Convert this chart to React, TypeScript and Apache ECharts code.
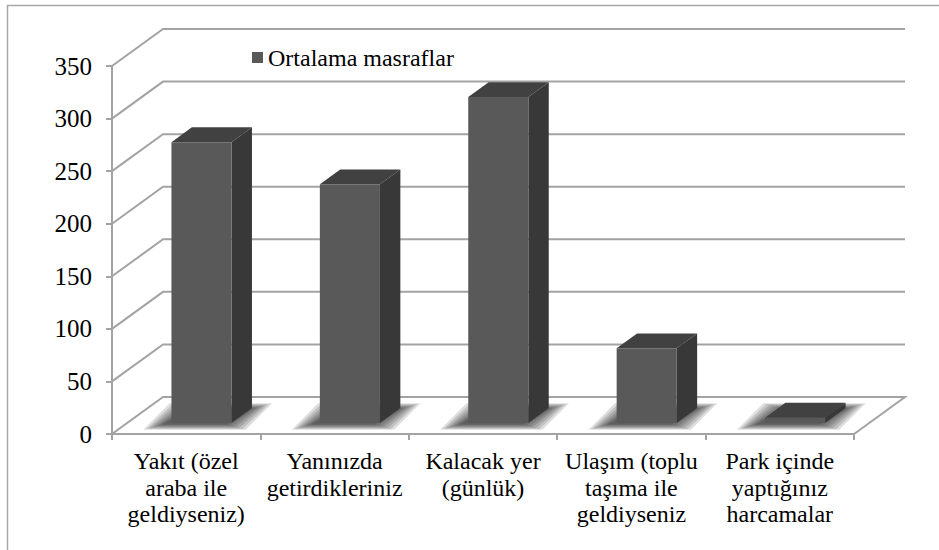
import React, { useEffect, useRef } from "react";
import * as echarts from "echarts";

const categories = [
  "Yakıt (özel\naraba ile\ngeldiyseniz)",
  "Yanınızda\ngetirdikleriniz",
  "Kalacak yer\n(günlük)",
  "Ulaşım (toplu\ntaşıma ile\ngeldiyseniz",
  "Park içinde\nyaptığınız\nharcamalar",
];
const seriesName = "Ortalama masraflar";
const values = [267, 227, 310, 71, 5];
const yTicks = [0, 50, 100, 150, 200, 250, 300, 350];

const FONT = "Liberation Serif";
const GRID_COLOR = "#a3a3a3";
const DEPTH = [51, -37];
const F1 = 0.3;
const F2 = 0.7;

export default function App() {
  const ref = useRef<HTMLDivElement>(null);
  useEffect(() => {
    document.body.style.margin = "0";
    const chart = echarts.init(ref.current!, null, { renderer: "svg" });
    const option: any = {
      animation: false,
      backgroundColor: "#ffffff",
      graphic: [
        {
          type: "rect",
          shape: { x: 7.5, y: 5.5, width: 1000, height: 1000 },
          style: { fill: "none", stroke: "#a8a8a8", lineWidth: 1.5 },
          z: 0,
        },
        {
          type: "rect",
          shape: { x: 252, y: 52, width: 11, height: 11 },
          style: { fill: "#595959" },
          z: 10,
        },
        {
          type: "text",
          x: 268,
          y: 57.5,
          z: 10,
          style: {
            text: seriesName,
            fontFamily: FONT,
            fontSize: 24,
            fill: "#000",
            textVerticalAlign: "middle",
            verticalAlign: "middle",
          },
        },
      ],
      grid: { left: 112, right: 85, top: 66, bottom: 116, containLabel: false },
      xAxis: {
        type: "category",
        data: categories,
        axisLine: { show: true, lineStyle: { color: GRID_COLOR, width: 2 } },
        axisTick: { show: true, length: 6, lineStyle: { color: GRID_COLOR, width: 2 } },
        axisLabel: { show: false },
        splitLine: { show: false },
      },
      yAxis: {
        type: "value",
        min: 0,
        max: 350,
        interval: 50,
        axisLine: { show: true, lineStyle: { color: GRID_COLOR, width: 2 } },
        axisTick: { show: true, length: 6, lineStyle: { color: GRID_COLOR, width: 2 } },
        axisLabel: { show: false },
        splitLine: { show: false },
      },
      series: [
        {
          type: "custom",
          name: "walls",
          silent: true,
          z: 1,
          data: yTicks.map((t) => [0, t]),
          renderItem: (params: any, api: any) => {
            const v = api.value(1);
            const bw = api.size([1, 0])[0];
            const p0 = api.coord([0, v]);
            const pN = api.coord([categories.length - 1, v]);
            const left = p0[0] - bw / 2;
            const right = pN[0] + bw / 2;
            const y = p0[1];
            const children: any[] = [];
            if (v === 0) {
              children.push({
                type: "polygon",
                shape: {
                  points: [
                    [left, y],
                    [right, y],
                    [right + DEPTH[0], y + DEPTH[1]],
                    [left + DEPTH[0], y + DEPTH[1]],
                  ],
                },
                style: { fill: "#fff", stroke: GRID_COLOR, lineWidth: 2 },
              });
            } else {
              children.push({
                type: "polyline",
                shape: {
                  points: [
                    [left, y],
                    [left + DEPTH[0], y + DEPTH[1]],
                    [right + DEPTH[0], y + DEPTH[1]],
                  ],
                },
                style: { stroke: GRID_COLOR, lineWidth: 2, fill: "none" },
              });
            }
            children.push({
              type: "text",
              x: left - 20,
              y: y,
              style: {
                text: String(v),
                fontFamily: FONT,
                fontSize: 25,
                fill: "#000",
                align: "right",
                verticalAlign: "middle",
              },
            });
            return { type: "group", children };
          },
        },
        {
          type: "custom",
          name: "categoryLabels",
          silent: true,
          z: 3,
          data: categories.map((c, i) => [i, 0]),
          renderItem: (params: any, api: any) => {
            const idx = api.value(0);
            const p = api.coord([idx, 0]);
            return {
              type: "text",
              x: p[0],
              y: p[1] + 14,
              style: {
                text: categories[idx],
                fontFamily: FONT,
                fontSize: 24,
                lineHeight: 26.5,
                fill: "#000",
                align: "center",
                verticalAlign: "top",
              },
            };
          },
        },
        {
          type: "custom",
          name: seriesName,
          z: 2,
          itemStyle: { color: "#595959" },
          data: values.map((v, i) => [i, v]),
          renderItem: (params: any, api: any) => {
            const idx = api.value(0);
            const v = api.value(1);
            const base = api.coord([idx, 0]);
            const top = api.coord([idx, v]);
            const bw = api.size([1, 0])[0];
            const w = bw * 0.405;
            const fx0 = base[0] + DEPTH[0] * F1 - w / 2;
            const fx1 = fx0 + w;
            const fyb = base[1] + DEPTH[1] * F1;
            const fyt = top[1] + DEPTH[1] * F1;
            const dx = DEPTH[0] * (F2 - F1);
            const dy = DEPTH[1] * (F2 - F1);
            const shadows: any[] = [];
            const layers = 7;
            for (let k = layers - 1; k >= 0; k--) {
              const e = 2 + k * 3.2;
              const ev = 0.5 + k * 0.9;
              const ox = -7;
              const oy = 1;
              shadows.push({
                type: "polygon",
                shape: {
                  points: [
                    [fx0 + ox - e, fyb + oy + ev],
                    [fx1 + ox + e, fyb + oy + ev],
                    [fx1 + dx + ox + e + 6, fyb + dy + oy - ev],
                    [fx0 + dx + ox - e + 6, fyb + dy + oy - ev],
                  ],
                },
                style: { fill: "rgba(0,0,0,0.13)" },
              });
            }
            return {
              type: "group",
              children: [
                ...shadows,
                {
                  type: "polygon",
                  shape: {
                    points: [
                      [fx0, fyt],
                      [fx1, fyt],
                      [fx1 + dx, fyt + dy],
                      [fx0 + dx, fyt + dy],
                    ],
                  },
                  style: { fill: "#414141" },
                },
                {
                  type: "polygon",
                  shape: {
                    points: [
                      [fx1, fyt],
                      [fx1 + dx, fyt + dy],
                      [fx1 + dx, fyb + dy],
                      [fx1, fyb],
                    ],
                  },
                  style: { fill: "#383838" },
                },
                {
                  type: "rect",
                  shape: { x: fx0, y: fyt, width: w, height: fyb - fyt },
                  style: { fill: "#595959" },
                },
              ],
            };
          },
        },
      ],
    };
    chart.setOption(option);
    return () => chart.dispose();
  }, []);
  return <div ref={ref} style={{ width: 939, height: 550 }} />;
}
